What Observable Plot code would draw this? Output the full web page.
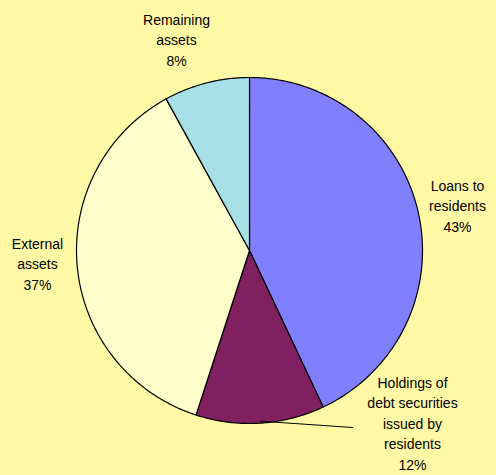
<!DOCTYPE html>
<html><head><meta charset="utf-8">
<script src="https://cdn.jsdelivr.net/npm/d3@7"></script>
<script src="https://cdn.jsdelivr.net/npm/@observablehq/plot@0.6"></script>
<style>body{margin:0;background:#FFF9A6}</style>
</head><body><div id="chart"></div>
<script>
const labels = ["Loans to residents", "Holdings of debt securities issued by residents", "External assets", "Remaining assets"];
const shares = [43, 12, 37, 8];
const colors = ["#8080FF", "#802060", "#FFFFCC", "#A6E0E6"];
const labelLines = [
  ["Loans to", "residents", "43%"],
  ["Holdings of", "debt securities", "issued by", "residents", "12%"],
  ["External", "assets", "37%"],
  ["Remaining", "assets", "8%"]
];
const labelPos = [[457, 186], [412, 383], [37, 244], [176, 20]];

const cx = 249, cy = 250, r = 173;
const pie = d3.pie().sort(null)(shares);
const pt = (a, rr = r) => [cx + rr * Math.sin(a), cy - rr * Math.cos(a)];

const verts = [];
pie.forEach((p, i) => {
  const n = Math.max(2, Math.ceil((p.endAngle - p.startAngle) / 0.01));
  verts.push({i, x: cx, y: cy});
  for (let k = 0; k <= n; k++) {
    const [x, y] = pt(p.startAngle + (p.endAngle - p.startAngle) * k / n);
    verts.push({i, x, y});
  }
  verts.push({i, x: cx, y: cy});
});

const texts = [];
labelLines.forEach((ls, i) => ls.forEach((t, j) =>
  texts.push({t, x: labelPos[i][0], y: labelPos[i][1] + j * 20.5})));

const hMid = (pie[1].startAngle + pie[1].endAngle) / 2;
const [lx, ly] = pt(hMid, r - 2);
const leader = [{x: lx, y: ly}, {x: 352, y: 427}];

const chart = Plot.plot({
  width: 496, height: 475,
  margin: 0,
  style: {background: "#FFF9A6", fontFamily: "Liberation Sans, Arial, sans-serif"},
  x: {domain: [0, 496], axis: null},
  y: {domain: [0, 475], axis: null, reverse: true},
  marks: [
    Plot.line(verts, {x: "x", y: "y", z: "i", fill: d => colors[d.i], stroke: "#000", strokeWidth: 1.2, curve: "linear-closed"}),
    Plot.line(leader, {x: "x", y: "y", stroke: "#000", strokeWidth: 1}),
    Plot.text(texts, {x: "x", y: "y", text: "t", fontSize: 14, fill: "#000", textAnchor: "middle"})
  ]
});
document.getElementById("chart").appendChild(chart);
</script></body></html>
